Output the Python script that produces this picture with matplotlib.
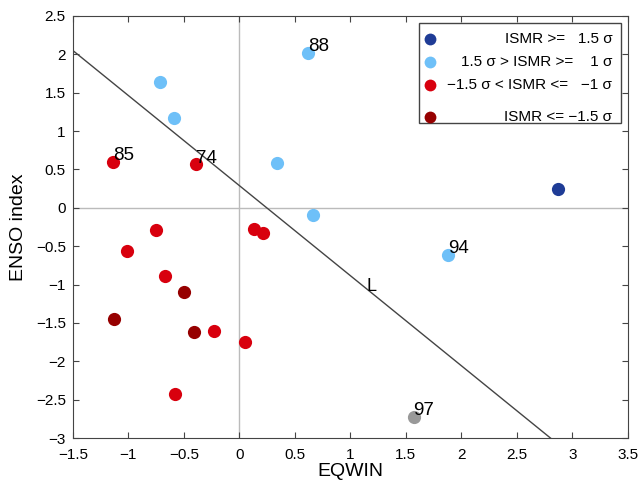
import matplotlib
matplotlib.use("Agg")
import matplotlib.pyplot as plt
from matplotlib.patches import Rectangle
import numpy as np

plt.rcParams['font.family'] = ['Liberation Sans', 'DejaVu Sans']

# Data
strong_pos_x = [2.87]
strong_pos_y = [0.24]

mod_pos_x = [-0.71, -0.585, 0.62, 0.34, 0.66, 1.88]
mod_pos_y = [1.64, 1.17, 2.02, 0.59, -0.10, -0.61]

mod_neg_x = [-1.14, -0.39, -0.75, -1.01, -0.67, -0.23, 0.135, 0.21, 0.05, -0.58]
mod_neg_y = [0.60, 0.57, -0.29, -0.56, -0.89, -1.60, -0.27, -0.33, -1.75, -2.43]

strong_neg_x = [-1.13, -0.50, -0.41]
strong_neg_y = [-1.45, -1.10, -1.62]

other_x = [1.57]
other_y = [-2.72]

year_labels = ['88', '85', '74', '94', '97']
year_x = [0.62, -1.14, -0.39, 1.88, 1.57]
year_y = [2.02, 0.60, 0.57, -0.61, -2.72]

line_intercept = 0.29
line_slope = -1.174

legend_labels = ['ISMR >=   1.5 σ', '1.5 σ > ISMR >=    1 σ',
                 '−1.5 σ < ISMR <=   −1 σ', 'ISMR <= −1.5 σ']
colors = ['#1f3c96', '#6ec0f8', '#d8000e', '#960000']
grey = '#999999'

fig = plt.figure(figsize=(6.44, 4.84), dpi=100)
ax = fig.add_axes([0.113, 0.095, 0.862, 0.872])

ax.axhline(0, color='#bbbbbb', lw=1, zorder=1)
ax.axvline(0, color='#bbbbbb', lw=1, zorder=1)

lx = np.array([-1.5, 3.5])
ax.plot(lx, line_intercept + line_slope * lx, color='#444444', lw=1, zorder=2)
ax.text(1.15, -1.08, 'L', fontsize=13, ha='left', va='baseline')

ms = 9.5
for xs, ys, c in [(strong_pos_x, strong_pos_y, colors[0]),
                  (mod_pos_x, mod_pos_y, colors[1]),
                  (mod_neg_x, mod_neg_y, colors[2]),
                  (strong_neg_x, strong_neg_y, colors[3]),
                  (other_x, other_y, grey)]:
    ax.plot(xs, ys, 'o', color=c, ms=ms, mec='none', zorder=3)

for t, x, y in zip(year_labels, year_x, year_y):
    ax.text(x, y + 0.02, t, fontsize=13.5, ha='left', va='baseline', zorder=4)

ax.set_xlim(-1.5, 3.5)
ax.set_ylim(-3, 2.5)
ax.set_xticks(np.arange(-1.5, 3.51, 0.5))
ax.set_yticks(np.arange(-3, 2.51, 0.5))
ax.set_xticklabels(['−1.5', '−1', '−0.5', '0', '0.5', '1', '1.5', '2', '2.5', '3', '3.5'])
ax.set_yticklabels(['−3', '−2.5', '−2', '−1.5', '−1', '−0.5', '0', '0.5', '1', '1.5', '2', '2.5'])
ax.tick_params(direction='in', top=True, right=True, labelsize=11, length=4, color='#444444')
ax.tick_params(axis='x', pad=7)
ax.tick_params(axis='y', pad=5)
for s in ax.spines.values():
    s.set_color('#444444')
ax.set_xlabel('EQWIN', fontsize=14, labelpad=1)
ax.set_ylabel('ENSO index', fontsize=14, labelpad=6)

# manual legend (MATLAB style)
ax.add_patch(Rectangle((0.623, 0.746), 0.364, 0.237, transform=ax.transAxes,
                       fill=True, facecolor='white', edgecolor='#444444', lw=1, zorder=5))
row_y = [0.945, 0.891, 0.836, 0.760]
for lab, c, yy in zip(legend_labels, colors, row_y):
    ax.plot([0.644], [yy], 'o', color=c, ms=8.5, mec='none', transform=ax.transAxes, zorder=6)
    ax.text(0.972, yy, lab, transform=ax.transAxes, ha='right', va='center', fontsize=11, zorder=6)

fig.savefig('out.png', dpi=100)
